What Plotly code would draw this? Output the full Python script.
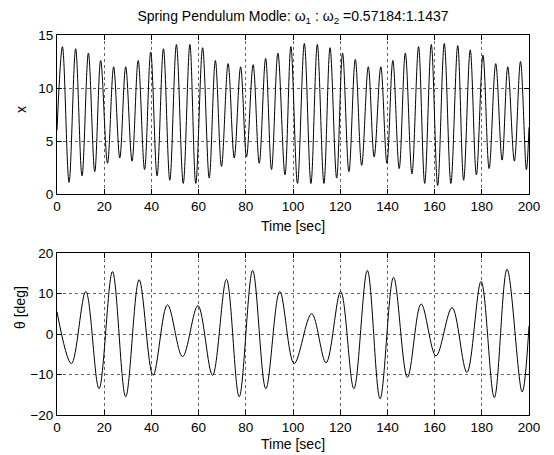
import plotly.graph_objects as go
from plotly.subplots import make_subplots

# ---- data (extrema of each signal) ----
x_time = [0, 2.3, 5.1, 7.9, 10.6, 13.3, 16.0, 18.5, 21.4, 24.0, 26.6, 29.1, 31.8, 34.4, 37.1,
          39.7, 42.4, 45.1, 47.8, 50.6, 53.5, 56.3, 58.8, 61.7, 64.5, 67.1, 69.7, 72.5, 75.1,
          77.8, 80.3, 83.1, 85.7, 88.4, 90.9, 93.6, 96.6, 99.1, 101.9, 104.8, 107.6, 110.3,
          113.1, 115.7, 118.5, 121.0, 123.7, 126.4, 129.1, 131.9, 134.4, 137.2, 139.8, 142.3,
          145.0, 147.6, 150.4, 153.2, 155.8, 158.6, 161.3, 164.1, 166.9, 169.8, 172.3, 175.1,
          177.7, 180.5, 183.1, 185.9, 188.6, 191.0, 193.8, 196.4, 198.9, 200]
x_value = [6.0, 13.9, 1.1, 13.7, 1.7, 13.3, 2.1, 12.6, 2.9, 12.0, 3.4, 12.0, 3.1, 12.6, 2.3,
           13.4, 1.7, 13.7, 1.3, 14.1, 1.0, 14.1, 1.0, 13.8, 1.5, 12.6, 2.6, 12.3, 3.4,
           12.0, 3.5, 12.2, 2.9, 12.8, 2.3, 13.3, 1.8, 13.9, 1.0, 14.2, 1.0, 14.1,
           1.0, 13.8, 1.5, 13.3, 2.1, 12.7, 2.7, 12.0, 3.5, 12.0, 2.9, 12.6,
           2.4, 13.3, 1.9, 13.9, 1.0, 14.1, 0.8, 14.2, 1.0, 14.0, 1.3, 13.6,
           1.8, 13.1, 2.4, 12.3, 3.2, 12.0, 3.1, 12.5, 2.3, 6.3]

theta_time = [0, 6.1, 12.2, 17.8, 23.5, 29.1, 34.8, 40.7, 46.8, 53.2, 59.7, 65.9, 71.8, 77.2,
              82.9, 88.5, 94.4, 100.5, 107.9, 114.0, 120.2, 125.8, 131.5, 136.9, 142.6, 148.5,
              154.3, 160.6, 167.4, 173.7, 179.7, 185.3, 190.7, 197.1, 200]
theta_value = [5.5, -7.3, 10.5, -13.5, 15.4, -15.5, 13.4, -10.2, 7.2, -5.6, 7.0, -10.2, 13.5, -15.5,
               15.7, -13.5, 10.5, -7.3, 5.0, -7.1, 10.5, -13.5, 15.7, -16.0, 14.0, -10.7,
               7.4, -5.4, 6.5, -9.5, 13.0, -15.7, 16.0, -14.3, 2.0]

x_ticks = [0, 20, 40, 60, 80, 100, 120, 140, 160, 180, 200]

FONT = "Liberation Sans, Arial, Helvetica, sans-serif"

# the page body adds an 8 px margin, so the figure is sized to fit the 554x455 window
W, H = 546, 447
ML, MR, MT, MB = 49, 25, 27, 40
PH = H - MT - MB  # 380


def py(page_y):
    """page pixel y -> paper fraction"""
    return (H - MB - (page_y - 8)) / PH


def px(page_x):
    return (page_x - 8 - ML) / (W - ML - MR)


fig = make_subplots(rows=2, cols=1)
fig.add_trace(go.Scatter(x=x_time, y=x_value, mode="lines",
                         line=dict(color="black", width=1, shape="spline", smoothing=1.0),
                         showlegend=False), row=1, col=1)
fig.add_trace(go.Scatter(x=theta_time, y=theta_value, mode="lines",
                         line=dict(color="black", width=1, shape="spline", smoothing=1.0),
                         showlegend=False), row=2, col=1)

axis_common = dict(showline=True, linecolor="black", linewidth=1, mirror="allticks",
                   ticks="inside", ticklen=5, tickcolor="black", showgrid=True,
                   gridcolor="#666666", griddash="dot", gridwidth=1, zeroline=False,
                   automargin=False,
                   tickfont=dict(family=FONT, size=13.5, color="black"))

fig.update_xaxes(range=[0, 200], tickvals=x_ticks, **axis_common)
fig.update_yaxes(**axis_common)
fig.update_yaxes(range=[0, 15], tickvals=[0, 5, 10, 15], row=1, col=1)
fig.update_yaxes(range=[-20, 20], tickvals=[-20, -10, 0, 10, 20], row=2, col=1)

fig.update_layout(
    width=W, height=H,
    margin=dict(l=ML, r=MR, t=MT, b=MB),
    paper_bgcolor="white", plot_bgcolor="white",
    font=dict(family=FONT, size=13.5, color="black"),
    xaxis=dict(domain=[0, 1], anchor="y"),
    yaxis=dict(domain=[py(194), 1.0]),
    xaxis2=dict(domain=[0, 1], anchor="y2"),
    yaxis2=dict(domain=[0.0, py(253)]),
    title=dict(text="Spring Pendulum Modle: ω<sub>1</sub> : ω<sub>2</sub> =0.57184:1.1437",
               x=0.5, xref="paper", xanchor="center", y=1 - 8 / H, yanchor="middle",
               font=dict(family=FONT, size=14, color="black")),
    annotations=[
        dict(text="Time [sec]", x=0.5, xref="paper", y=py(226), yref="paper",
             showarrow=False, xanchor="center", yanchor="middle",
             font=dict(family=FONT, size=14)),
        dict(text="Time [sec]", x=0.5, xref="paper", y=py(444), yref="paper",
             showarrow=False, xanchor="center", yanchor="middle",
             font=dict(family=FONT, size=14)),
        dict(text="x", x=px(21), xref="paper", y=py(110), yref="paper",
             showarrow=False, xanchor="center", yanchor="middle", textangle=-90,
             font=dict(family=FONT, size=14)),
        dict(text="θ [deg]", x=px(20), xref="paper", y=py(308), yref="paper",
             showarrow=False, xanchor="center", yanchor="middle", textangle=-90,
             font=dict(family=FONT, size=14)),
    ],
)

fig.write_html("out.html")
